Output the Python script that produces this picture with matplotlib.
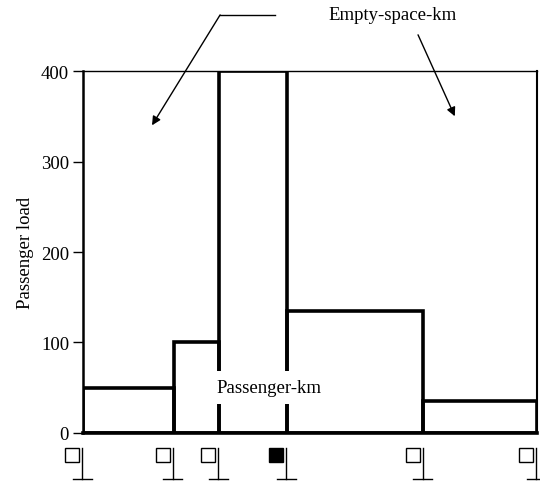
import numpy as np
import matplotlib
matplotlib.use('Agg')
from matplotlib import pyplot as plt

plt.rcParams['font.family'] = ['Liberation Serif', 'DejaVu Serif']
plt.rcParams['font.size'] = 13.5

# stops along the route (km) and load on each link between them
stops = [0, 20, 30, 45, 75, 100]
loads = [50, 100, 400, 135, 35]
busiest_stop = 3   # drawn with a filled square

yticks = [0, 100, 200, 300, 400]

fig = plt.figure(figsize=(5.4, 4.85), dpi=100)
ax = fig.add_axes([0.1537, 0.1052, 0.8407, 0.7463])

edges = np.array(stops)
ax.bar(edges[:-1], loads, width=np.diff(edges), align='edge',
       fill=False, edgecolor='k', linewidth=2.6, zorder=2)

ax.set_xlim(stops[0], stops[-1])
ax.set_ylim(0, 400)
ax.set_yticks(yticks)
ax.set_xticks([])
ax.tick_params(axis='y', direction='out', length=7, width=1, pad=3)
ax.set_ylabel('Passenger load', labelpad=5)

ax.spines['left'].set_linewidth(1.8)
ax.spines['right'].set_linewidth(1.5)
ax.spines['top'].set_linewidth(1.0)
ax.spines['bottom'].set_linewidth(2.6)

ax.text(41.0, 50, 'Passenger-km', ha='center', va='center', zorder=5,
        bbox=dict(facecolor='white', edgecolor='none', pad=6))

# empty space label with two arrows
ax.text(68.1, 462, 'Empty-space-km', ha='center', va='center', clip_on=False)
ax.plot([42.3, 30.2], [462, 462], color='k', lw=1, clip_on=False)
ax.annotate('', xy=(15.2, 340), xytext=(30.2, 462),
            arrowprops=dict(arrowstyle='-|>', color='k', lw=1, mutation_scale=13,
                            shrinkA=0, shrinkB=0), annotation_clip=False)
ax.annotate('', xy=(81.9, 350), xytext=(73.8, 440),
            arrowprops=dict(arrowstyle='-|>', color='k', lw=1, mutation_scale=13,
                            shrinkA=0, shrinkB=0), annotation_clip=False)

# stop symbols under the axis
for i, s in enumerate(stops):
    face = 'k' if i == busiest_stop else 'white'
    ax.plot([s - 2.4], [-23.8], marker='s', markersize=10, markerfacecolor=face,
            markeredgecolor='k', markeredgewidth=1, clip_on=False, zorder=5)
    ax.plot([s - 0.2, s - 0.2], [-16.6, -50.8], color='k', lw=1, clip_on=False)
    ax.plot([s - 2.3, s + 1.9], [-50.8, -50.8], color='k', lw=1, clip_on=False)

fig.savefig('out.png', dpi=100)
